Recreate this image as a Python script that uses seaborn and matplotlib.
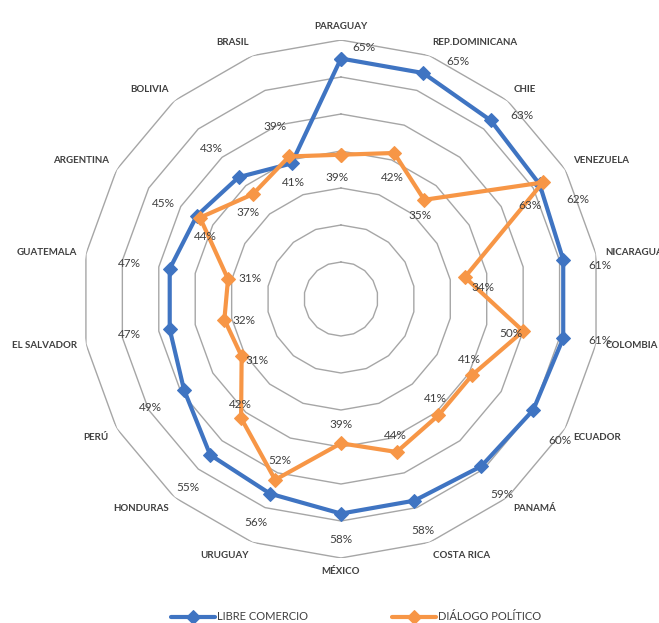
import numpy as np
import pandas as pd
import matplotlib
matplotlib.use("Agg")
import matplotlib.pyplot as plt
import seaborn as sns

sns.set_theme(style="white")
plt.rcParams['font.family'] = ['Lato', 'DejaVu Sans']

# Data (percent), clockwise starting at the top
paises = ['PARAGUAY', 'REP.DOMINICANA', 'CHIE', 'VENEZUELA', 'NICARAGUA', 'COLOMBIA',
          'ECUADOR', 'PANAMÁ', 'COSTA RICA', 'MÉXICO', 'URUGUAY', 'HONDURAS',
          'PERÚ', 'EL SALVADOR', 'GUATEMALA', 'ARGENTINA', 'BOLIVIA', 'BRASIL']
libre_comercio = [65, 65, 63, 62, 61, 61, 60, 59, 58, 58, 56, 55, 49, 47, 47, 45, 43, 39]
dialogo_politico = [39, 42, 35, 63, 34, 50, 41, 41, 44, 39, 52, 42, 31, 32, 31, 44, 37, 41]
series = ['LIBRE COMERCIO', 'DIÁLOGO POLÍTICO']

blue = '#3F74C2'
orange = '#F79646'
grid_col = '#A6A6A6'
txt_col = '#404040'

# label nudges in pixels (dx, dy screen-down)
blue_off = [(23, -11), (35, -12), (31, -5), (38, 15), (37, 6), (37, 2), (27, 30), (21, 28),
            (9, 30), (0, 26), (-14, 29), (-22, 33), (-34, 18), (-40, 5), (-40, -5),
            (-33, -12), (-27, -29), (-17, -37)]
orange_off = [(-4, 23), (-2, 25), (-4, 16), (-13, 23), (18, 10), (-12, 2), (-3, -15), (-3, -17),
              (-1, -16), (0, -19), (5, -19), (-1, -14), (15, 4), (20, 1), (22, -1),
              (5, 19), (-5, 18), (4, 26)]

n = len(paises)
theta = np.arange(n) * 2 * np.pi / n
theta_c = np.append(theta, theta[0])

rows = []
for name, vals in zip(series, [libre_comercio, dialogo_politico]):
    vc = list(vals) + [vals[0]]
    for i, (t, v) in enumerate(zip(theta_c, vc)):
        rows.append({'serie': name, 'theta': t, 'valor': v, 'orden': i})
df = pd.DataFrame(rows)

fig = plt.figure(figsize=(6.59, 6.23), dpi=100)
ax = fig.add_axes([0.1244, 0.1043, 0.786, 0.8315], projection='polar')
ax.set_theta_zero_location('N')
ax.set_theta_direction(-1)
ax.set_ylim(0, 70)
ax.set_xticks([])
ax.set_yticks([])
ax.grid(False)
ax.spines['polar'].set_visible(False)

# polygon rings
for r in range(10, 80, 10):
    ax.plot(theta_c, [r] * (n + 1), color=grid_col, lw=1, zorder=1)

colors = {series[0]: blue, series[1]: orange}
sizes = {series[0]: 7, series[1]: 7.5}
for name in series:
    sub = df[df['serie'] == name]
    sns.lineplot(data=sub, x='theta', y='valor', sort=False, estimator=None, ax=ax,
                 color=colors[name], lw=3, marker='D', markersize=sizes[name],
                 markeredgecolor=colors[name], label=name, legend=False, zorder=3)

# value labels
for vals, offs in [(libre_comercio, blue_off), (dialogo_politico, orange_off)]:
    for t, v, (dx, dy) in zip(theta, vals, offs):
        ax.annotate(f'{v}%', (t, v), xytext=(dx, -dy), textcoords='offset pixels',
                    ha='center', va='center', fontsize=8.5, color=txt_col, zorder=5)

# category labels, anchored by their nearest edge
for t, p in zip(theta, paises):
    s, c = np.sin(t), np.cos(t)
    ha = 'left' if s > 0.3 else ('right' if s < -0.3 else 'center')
    va = 'bottom' if c > 0.3 else ('top' if c < -0.3 else 'center')
    ax.text(t, 72.5, p, ha=ha, va=va, fontsize=7, fontweight='bold',
            color=txt_col, clip_on=False)

ax.set_xlabel('')
ax.set_ylabel('')

handles = ax.get_lines()[-2:]
fig.legend(handles, series, loc='center', bbox_to_anchor=(356 / 659, 1 - 617 / 623),
           ncol=2, frameon=False, fontsize=8, handlelength=4.0, columnspacing=7.5,
           handletextpad=0.2, labelcolor=txt_col)

fig.savefig('out.png', dpi=100)
